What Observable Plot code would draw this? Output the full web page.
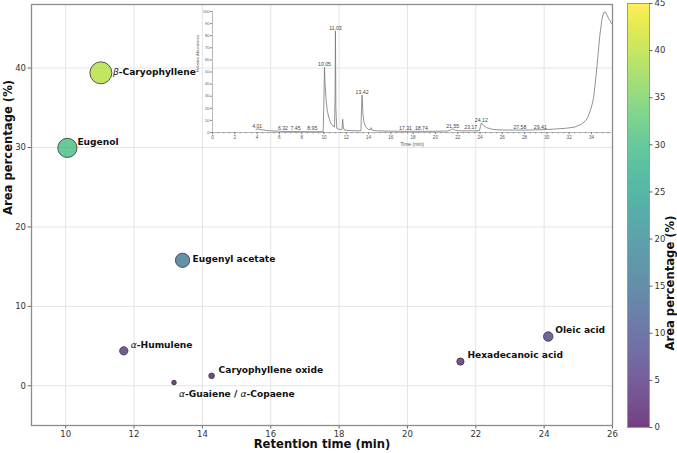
<!DOCTYPE html>
<html><head><meta charset="utf-8">
<script src="https://cdn.jsdelivr.net/npm/d3@7"></script>
<script src="https://cdn.jsdelivr.net/npm/@observablehq/plot@0.6"></script>
<style>
html,body{margin:0;padding:0;background:#fff;}
#chart{position:relative;width:677px;height:453px;overflow:hidden;font-family:"DejaVu Sans",sans-serif;}
#chart svg{position:absolute;background:transparent;}
</style></head><body><div id="chart"></div>
<script>
// ---- main scatter data ----
const compounds = ["Eugenol", "β-Caryophyllene", "α-Humulene", "α-Guaiene / α-Copaene", "Eugenyl acetate", "Caryophyllene oxide", "Hexadecanoic acid", "Oleic acid"];
const retentionTimes = [10.05, 11.03, 11.70, 13.17, 13.42, 14.27, 21.55, 24.12];
const areaPercent = [29.95, 39.4, 4.4, 0.4, 15.8, 1.25, 3.05, 6.2];
const xTicks = [10, 12, 14, 16, 18, 20, 22, 24, 26];
const yTicks = [0, 10, 20, 30, 40];
const cbarTicks = [0, 5, 10, 15, 20, 25, 30, 35, 40, 45];

// ---- inset chromatogram data ----
const chromTrace = [[3.9,2.4],[4.0,3.0],[4.5,2.2],[5.0,1.5],[6.0,1.0],[7.0,0.8],[8.0,0.7],[9.0,0.6],[9.93,0.6],[9.98,20],[10.05,54],[10.1,40],[10.2,26],[10.3,18],[10.45,12],[10.6,8],[10.8,5.5],[10.95,4.5],[11.0,30],[11.03,84],[11.07,20],[11.15,3.5],[11.4,2.5],[11.62,2.5],[11.68,11],[11.73,5],[11.8,2.3],[12.0,1.8],[12.5,1.5],[13.0,1.4],[13.32,1.4],[13.37,20],[13.42,31],[13.5,15],[13.6,8],[13.75,4.5],[14.0,2.5],[14.15,2.2],[14.22,4],[14.3,2],[14.6,1.5],[15.0,1.3],[16.0,1.1],[17.0,1.0],[18.0,1.0],[19.0,1.0],[20.0,1.0],[21.0,1.2],[21.3,1.8],[21.55,3.0],[21.8,1.8],[22.2,1.4],[23.0,1.3],[23.17,1.6],[23.5,1.3],[23.95,1.5],[24.05,5],[24.12,8],[24.3,6],[24.6,4],[25.0,2.8],[25.5,2.3],[26.0,2.1],[27.0,2.0],[28.0,2.0],[29.0,2.2],[30.0,2.5],[31.0,3.0],[31.8,3.6],[32.5,4.5],[33.1,6.8],[33.5,10],[33.7,13],[34.0,21],[34.2,29],[34.45,50],[34.75,80],[34.95,94],[35.1,99],[35.25,99.5],[35.4,97],[35.55,94],[35.7,92],[35.8,90]];
const peakTimes = [4.01, 6.32, 7.45, 8.95, 10.05, 11.03, 13.42, 17.31, 18.74, 21.55, 23.17, 24.12, 27.58, 29.41];
const peakHeights = [3.0, 1.0, 0.8, 0.7, 54, 84, 31, 1.0, 1.0, 3.0, 1.6, 8, 2.0, 2.3];
const insetXTicks = [0, 2, 4, 6, 8, 10, 12, 14, 16, 18, 20, 22, 24, 26, 28, 30, 32, 34];
const insetYTicks = [0, 10, 20, 30, 40, 50, 60, 70, 80, 90, 100];

const data = compounds.map((name, i) => ({name, rt: retentionTimes[i], area: areaPercent[i]}));
const colorScale = {type: "linear", scheme: "viridis", domain: [0, 45]};

// label offsets (px) per compound, default to the right and slightly above
const labelOffsets = {"β-Caryophyllene": [12, -1], "Eugenyl acetate": [10, -1], "Eugenol": [10, -6], "α-Guaiene / α-Copaene": [5, 11]};
const offsetKey = d => (labelOffsets[d.name] || [7, -6]).join(",");
const labelMarks = d3.groups(data, offsetKey).map(([k, arr]) => {
  const [dx, dy] = k.split(",").map(Number);
  return Plot.text(arr, {x: "rt", y: "area", text: "name", dx, dy, textAnchor: "start", fontWeight: "bold", fontSize: 9.1, fill: "#111"});
});

const main = Plot.plot({
  width: 620, height: 453, marginLeft: 31, marginRight: 8, marginTop: 4, marginBottom: 28,
  style: {fontFamily: "DejaVu Sans", fontSize: "8.5px", color: "#333", background: "transparent", overflow: "visible"},
  x: {domain: [9, 26]},
  y: {domain: [-5, 48]},
  color: colorScale,
  r: {type: "linear", domain: [0, 6.45], range: [0, 11.1]},
  marks: [
    Plot.gridX(xTicks, {stroke: "#e4e4e4", strokeOpacity: 1}),
    Plot.gridY(yTicks, {stroke: "#e4e4e4", strokeOpacity: 1}),
    Plot.axisX(xTicks, {tickSize: 3.5, tickPadding: 1.5, label: null, stroke: "#666", fill: "#333"}),
    Plot.axisY(yTicks, {tickSize: 3.5, tickPadding: 2, label: null, stroke: "#666", fill: "#333"}),
    Plot.frame({stroke: "#8c8c8c", strokeWidth: 1.3}),
    Plot.dot(data, {x: "rt", y: "area", r: d => Math.sqrt(d.area + 1.4), fill: "area", fillOpacity: 0.75, stroke: "#333", strokeWidth: 0.8}),
    ...labelMarks,
    Plot.text(["Retention time (min)"], {text: d => d, frameAnchor: "bottom", dy: 22.5, fontWeight: "bold", fontSize: 11.6, fill: "#111"}),
    Plot.text(["Area percentage (%)"], {text: d => d, frameAnchor: "left", dx: -23, rotate: -90, fontWeight: "bold", fontSize: 11.6, fill: "#111"})
  ]
});
main.style.left = "0px"; main.style.top = "0px";

const cbar = Plot.plot({
  width: 57, height: 453, marginLeft: 7, marginRight: 28, marginTop: 3, marginBottom: 26,
  style: {fontFamily: "DejaVu Sans", fontSize: "8.5px", color: "#333", background: "transparent", overflow: "visible"},
  x: {domain: [0, 1], axis: null},
  y: {domain: [0, 45], axis: null},
  color: colorScale,
  marks: [
    Plot.rect([0, 45], {x1: 0, x2: 1, y1: 0, y2: 45, fill: "#fff"}),
    Plot.raster({x1: 0, x2: 1, y1: 0, y2: 45, width: 2, height: 450, fill: (x, y) => y, fillOpacity: 0.75, imageRendering: "auto"}),
    Plot.frame({stroke: "#9a9a9a", strokeWidth: 1}),
    Plot.tickY(cbarTicks, {y: d => d, stroke: "#666", strokeWidth: 1, dx: 3.5, insetLeft: 18.5}),
    Plot.text(cbarTicks, {x: () => 1, y: d => d, text: d => String(d), dx: 5, textAnchor: "start", fill: "#333", fontSize: 8.5}),
    Plot.text(["Area percentage (%)"], {text: d => d, frameAnchor: "right", dx: 21, rotate: -90, fontWeight: "bold", fontSize: 11.6, fill: "#111"})
  ]
});
cbar.style.left = "620px"; cbar.style.top = "0px";

const inset = Plot.plot({
  width: 421, height: 147, marginLeft: 21, marginRight: 1, marginTop: 7, marginBottom: 19,
  style: {fontFamily: "Liberation Sans", fontSize: "4.6px", color: "#444", background: "transparent", overflow: "visible"},
  x: {domain: [0, 35.8]},
  y: {domain: [0, 100]},
  marks: [
    Plot.axisX(d3.range(0, 35.8, 0.5), {tickSize: 1.3, tickFormat: () => "", label: null, stroke: "#888"}),
    Plot.axisX(insetXTicks, {tickSize: 2.2, tickPadding: 1.5, label: null, stroke: "#888", fill: "#555"}),
    Plot.axisY(insetYTicks, {tickSize: 2, tickPadding: 1, label: null, stroke: "#888", fill: "#555", fontSize: 4}),
    Plot.ruleY([0], {stroke: "#888", strokeWidth: 0.6}),
    Plot.ruleX([0], {stroke: "#888", strokeWidth: 0.6}),
    Plot.line(chromTrace, {x: d => d[0], y: d => d[1], stroke: "#777", strokeWidth: 0.8}),
    Plot.text(peakTimes, {x: d => d, y: (d, i) => peakHeights[i], text: d => d.toFixed(2), dy: -1.2, lineAnchor: "bottom", fontSize: 5.2, fill: "#444"}),
    Plot.text(["Time (min)"], {text: d => d, frameAnchor: "bottom", dy: 13.5, fontSize: 5, fill: "#555"}),
    Plot.text(["Relative Abundance"], {text: d => d, frameAnchor: "left", dx: -15, rotate: -90, fontSize: 4.2, fill: "#555"})
  ]
});
inset.style.left = "191px"; inset.style.top = "4px";

const chart = document.getElementById("chart");
chart.appendChild(main);
chart.appendChild(cbar);
chart.appendChild(inset);

// Greek letters rendered in regular italic, like matplotlib mathtext
const ns = "http://www.w3.org/2000/svg";
main.querySelectorAll("text").forEach(t => {
  const s = t.textContent;
  if (/[αβ]/.test(s) && t.children.length === 0) {
    t.textContent = "";
    for (const part of s.split(/([αβ])/)) {
      if (!part) continue;
      const ts = document.createElementNS(ns, "tspan");
      ts.textContent = part;
      if (/[αβ]/.test(part)) { ts.setAttribute("font-style", "italic"); ts.setAttribute("font-weight", "normal"); }
      t.appendChild(ts);
    }
  }
});
</script></body></html>
